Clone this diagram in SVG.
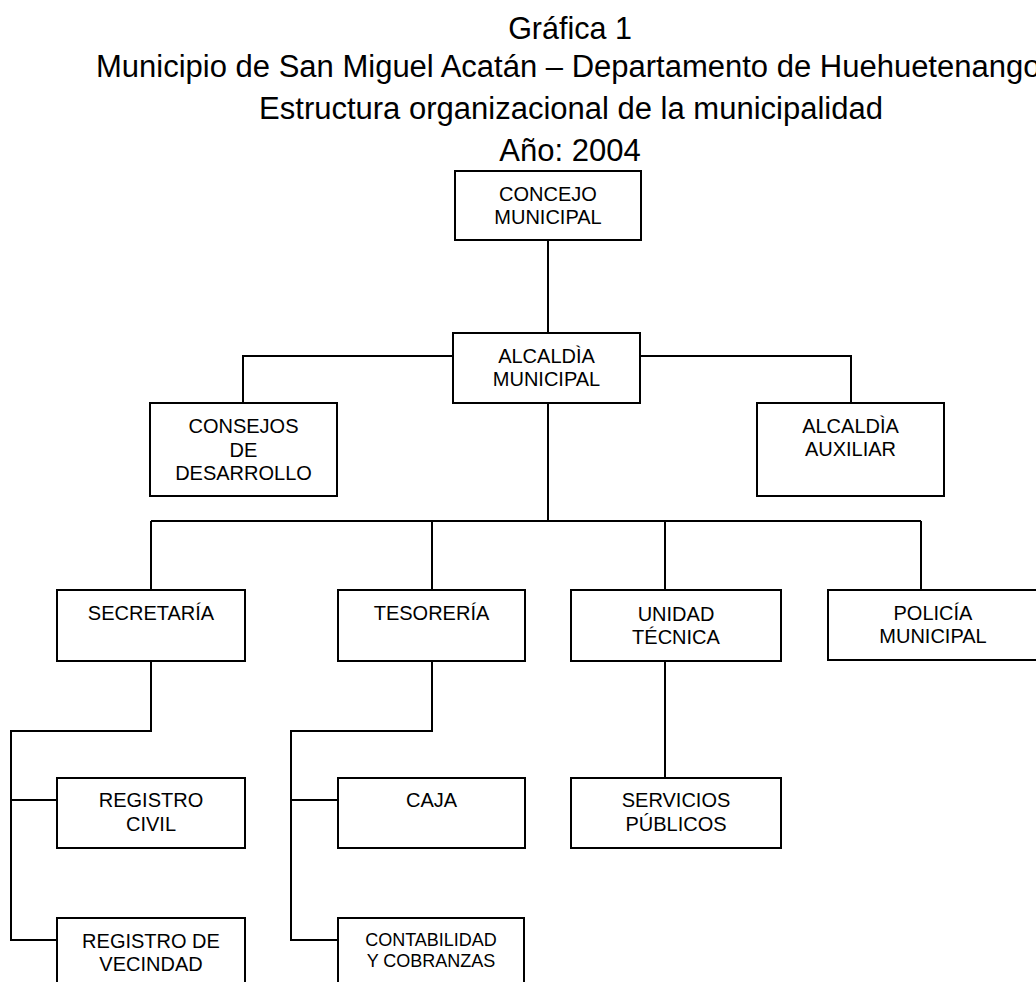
<svg xmlns="http://www.w3.org/2000/svg" width="1036" height="982" viewBox="0 0 1036 982">
<style>
.title{font-family:"Liberation Sans",Arial,sans-serif;font-size:31px;fill:#000;text-anchor:middle}
.box{fill:#fff;stroke:#000;stroke-width:2}
.lbl{font-family:"Liberation Sans",Arial,sans-serif;font-size:20px;fill:#000;text-anchor:middle}
.sm{font-size:18px}
.conn{fill:none;stroke:#000;stroke-width:2}
</style>
<rect width="1036" height="982" fill="#fff"/>
<g id="titles">
<text class="title" x="570" y="39" style="font-size:30.5px">Gráfica 1</text>
<text class="title" x="96" y="77" style="text-anchor:start">Municipio de San Miguel Acatán – Departamento de Huehuetenango</text>
<text class="title" x="571" y="119">Estructura organizacional de la municipalidad</text>
<text class="title" x="570" y="161">Año: 2004</text>
</g>
<g id="connectors">
<path class="conn" d="M548,240 V333"/>
<path class="conn" d="M453,356 H243 V403"/>
<path class="conn" d="M640,356 H851 V403"/>
<path class="conn" d="M548,403 V521"/>
<path class="conn" d="M151,521 H921"/>
<path class="conn" d="M151,521 V590 M432,521 V590 M665,521 V590 M921,521 V590"/>
<path class="conn" d="M151,661 V731 H11 V940 H57 M11,800 H57"/>
<path class="conn" d="M432,661 V731 H291 V940 H338 M291,800 H338"/>
<path class="conn" d="M665,661 V778"/>
</g>
<g id="concejo">
<rect class="box" x="455" y="171" width="186" height="69"/>
<text class="lbl" x="548" y="201">CONCEJO</text>
<text class="lbl" x="548" y="224">MUNICIPAL</text>
</g>
<g id="alcaldia">
<rect class="box" x="453" y="333" width="187" height="70"/>
<text class="lbl" x="546.5" y="363">ALCALDÌA</text>
<text class="lbl" x="546.5" y="386">MUNICIPAL</text>
</g>
<g id="consejos">
<rect class="box" x="150" y="403" width="187" height="93"/>
<text class="lbl" x="243.5" y="433">CONSEJOS</text>
<text class="lbl" x="243.5" y="457">DE</text>
<text class="lbl" x="243.5" y="480">DESARROLLO</text>
</g>
<g id="auxiliar">
<rect class="box" x="757" y="403" width="187" height="93"/>
<text class="lbl" x="850.5" y="433">ALCALDÌA</text>
<text class="lbl" x="850.5" y="456">AUXILIAR</text>
</g>
<g id="secretaria">
<rect class="box" x="57" y="590" width="188" height="71"/>
<text class="lbl" x="151" y="620">SECRETARÍA</text>
</g>
<g id="tesoreria">
<rect class="box" x="338" y="590" width="187" height="71"/>
<text class="lbl" x="431.5" y="620">TESORERÍA</text>
</g>
<g id="unidad">
<rect class="box" x="571" y="590" width="210" height="71"/>
<text class="lbl" x="676" y="621">UNIDAD</text>
<text class="lbl" x="676" y="644">TÉCNICA</text>
</g>
<g id="policia">
<rect class="box" x="828" y="590" width="215" height="70"/>
<text class="lbl" x="933" y="620">POLICÍA</text>
<text class="lbl" x="933" y="643">MUNICIPAL</text>
</g>
<g id="registro-civil">
<rect class="box" x="57" y="778" width="188" height="70"/>
<text class="lbl" x="151" y="807">REGISTRO</text>
<text class="lbl" x="151" y="831">CIVIL</text>
</g>
<g id="caja">
<rect class="box" x="338" y="778" width="187" height="70"/>
<text class="lbl" x="431.5" y="807">CAJA</text>
</g>
<g id="servicios">
<rect class="box" x="571" y="778" width="210" height="70"/>
<text class="lbl" x="676" y="807">SERVICIOS</text>
<text class="lbl" x="676" y="831">PÚBLICOS</text>
</g>
<g id="registro-vecindad">
<rect class="box" x="57" y="918" width="188" height="80"/>
<text class="lbl" x="151" y="948">REGISTRO DE</text>
<text class="lbl" x="151" y="971">VECINDAD</text>
</g>
<g id="contabilidad">
<rect class="box" x="338" y="918" width="186" height="80"/>
<text class="lbl sm" x="431" y="946">CONTABILIDAD</text>
<text class="lbl sm" x="431" y="967">Y COBRANZAS</text>
</g>
</svg>
